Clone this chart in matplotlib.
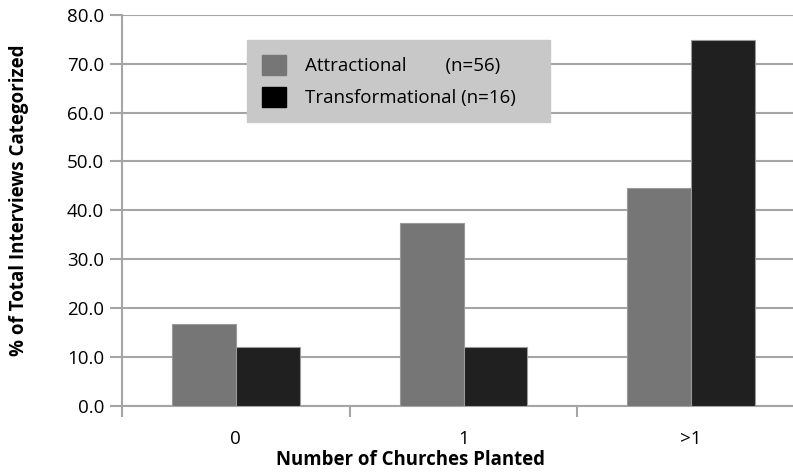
import numpy as np
import matplotlib.pyplot as plt
from matplotlib.patches import Patch

categories = ['0', '1', '>1']
attractional = [16.7, 37.5, 44.6]
transformational = [12.1, 12.1, 74.8]
labels = ['Attractional        (n=56)', 'Transformational (n=16)']

plt.rcParams['font.family'] = ['Open Sans', 'DejaVu Sans']

fig = plt.figure(figsize=(7.93, 4.74), dpi=100)
ax = fig.add_axes([122 / 793, 1 - 406 / 474, (805 - 122) / 793, (406 - 14.7) / 474])

x = np.arange(len(categories))
w = 0.28
c1, c2 = '#767676', '#202020'
ax.bar(x - w / 2, attractional, w, color=c1, edgecolor='#9a9a9a', linewidth=0.8, zorder=3)
ax.bar(x + w / 2, transformational, w, color=c2, edgecolor='#9a9a9a', linewidth=0.8, zorder=3)

ax.set_xlim(-0.5, len(categories) - 0.5)
ax.set_ylim(0, 80)
ax.set_yticks(np.arange(0, 81, 10))
ax.set_yticklabels([f'{v:.1f}' for v in np.arange(0, 81, 10)], fontsize=13.5)
ax.yaxis.grid(True, color='#a5a5a5', linewidth=1.5, zorder=0)
ax.set_axisbelow(True)

ax.set_xticks(x)
ax.set_xticklabels(categories, fontsize=13.5)
ax.set_xticks(np.arange(-0.5, len(categories)), minor=True)
ax.tick_params(axis='x', which='major', length=0, pad=17)
ax.tick_params(axis='x', which='minor', length=8, color='#a5a5a5', width=1.5)
ax.tick_params(axis='y', length=9, color='#a5a5a5', width=1.5, pad=4)

for s in ['top', 'right']:
    ax.spines[s].set_visible(False)
for s in ['left', 'bottom']:
    ax.spines[s].set_color('#a5a5a5')
    ax.spines[s].set_linewidth(1.5)

fig.text(410 / 793, 1 - 460 / 474, 'Number of Churches Planted',
         fontsize=13.4, fontweight='bold', ha='center', va='center')
fig.text(19 / 793, 1 - 200 / 474, '% of Total Interviews Categorized', rotation=90,
         fontsize=13.5, fontweight='bold', ha='center', va='center')

handles = [Patch(facecolor=c1, edgecolor=c1), Patch(facecolor='black', edgecolor='black')]
leg = ax.legend(handles, labels, loc='upper left',
                bbox_to_anchor=(247 / 793, 1 - 140 / 474, (550 - 247) / 793, 100 / 474),
                bbox_transform=fig.transFigure, mode='expand',
                fontsize=13.5, frameon=True, fancybox=False, handlelength=1.3,
                handleheight=1.3, labelspacing=0.6, borderpad=0.8, handletextpad=1.0,
                borderaxespad=0)
leg.get_frame().set_facecolor('#c8c8c8')
leg.get_frame().set_edgecolor('#c8c8c8')
leg.get_frame().set_alpha(1)

fig.savefig('out.png', dpi=100)
